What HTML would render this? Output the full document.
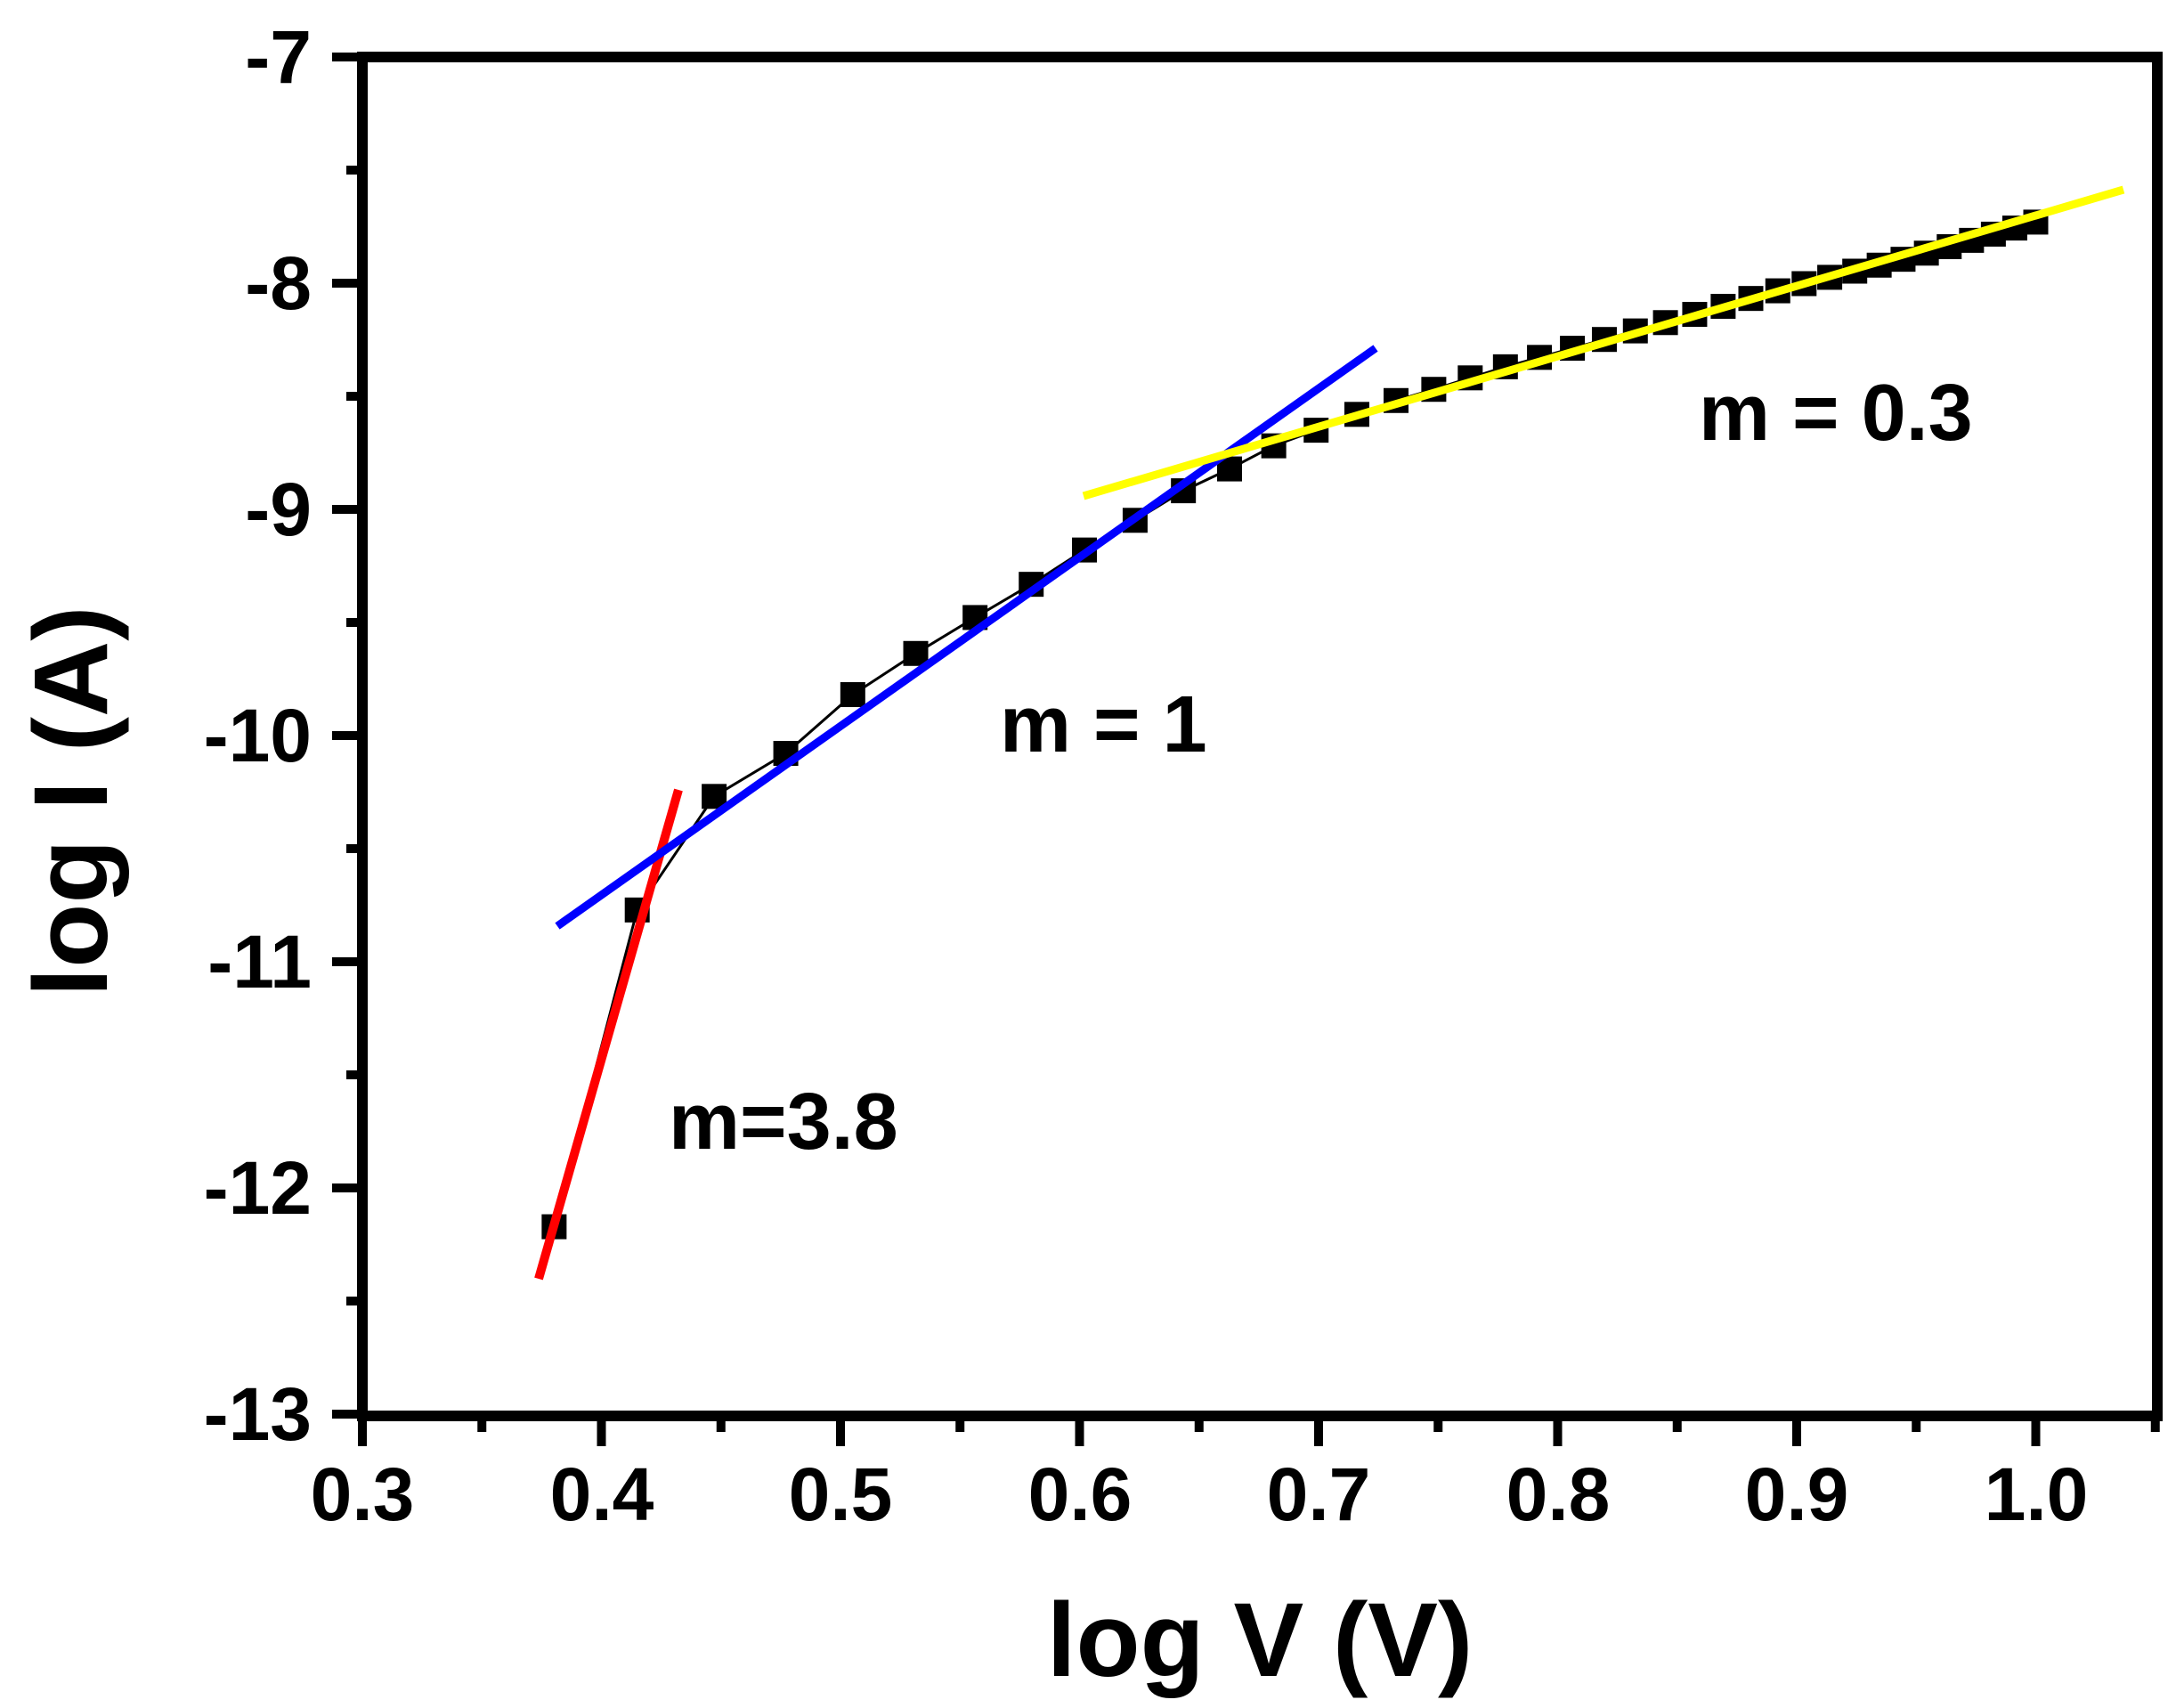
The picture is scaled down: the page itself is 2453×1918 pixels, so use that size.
<!DOCTYPE html>
<html><head><meta charset="utf-8"><style>
html,body{margin:0;padding:0;background:#fff;}
svg{display:block;}
text{font-family:"Liberation Sans",Arial,sans-serif;font-weight:bold;fill:#000;}
</style></head><body>
<svg id="s" width="2453" height="1918" viewBox="0 0 2453 1918" xmlns="http://www.w3.org/2000/svg">
<rect width="2453" height="1918" fill="#fff"/>
<g id="ticks" stroke="#000" stroke-width="10"></g>
<g id="data"></g>
<!-- fit lines -->
<line x1="605" y1="1436" x2="762" y2="887" stroke="#ff0000" stroke-width="10"/>
<line x1="626" y1="1040" x2="1545" y2="391" stroke="#0000ff" stroke-width="9"/>
<line x1="1217" y1="557" x2="2385" y2="213" stroke="#ffff00" stroke-width="9"/>
<!-- frame -->
<rect x="407" y="64" width="2016" height="1526" fill="none" stroke="#000" stroke-width="12"/>
<g font-size="84" text-anchor="end">
<text x="350" y="93">-7</text>
<text x="350" y="347">-8</text>
<text x="350" y="601">-9</text>
<text x="350" y="855">-10</text>
<text x="350" y="1109">-11</text>
<text x="350" y="1363">-12</text>
<text x="350" y="1617">-13</text>
</g>
<g font-size="84" text-anchor="middle">
<text x="407" y="1707">0.3</text>
<text x="676" y="1707">0.4</text>
<text x="944" y="1707">0.5</text>
<text x="1213" y="1707">0.6</text>
<text x="1481" y="1707">0.7</text>
<text x="1750" y="1707">0.8</text>
<text x="2018" y="1707">0.9</text>
<text x="2287" y="1707">1.0</text>
</g>
<text x="1415" y="1882" font-size="118" text-anchor="middle">log V (V)</text>
<text transform="translate(120,900) rotate(-90)" font-size="118" text-anchor="middle">log I (A)</text>
<text x="1908" y="494" font-size="90">m = 0.3</text>
<text x="1123" y="844" font-size="90">m = 1</text>
<text x="751" y="1290" font-size="90">m=3.8</text>
</svg>
<script>
var X=function(v){return 407+(v-0.3)*2685;};
var Y=function(l){return 64+(-7-l)*254;};
var t=document.getElementById('ticks'),h='';
for(var i=0;i<=12;i++){var l=-7-i*0.5,y=Y(l),len=(i%2==0)?34:18;h+='<line x1="'+(407-len)+'" y1="'+y+'" x2="407" y2="'+y+'"/>';}
for(var i=0;i<=15;i++){var v=0.3+i*0.05,x=X(v),len=(i%2==0)?34:18;h+='<line x1="'+x+'" y1="1590" x2="'+x+'" y2="'+(1590+len)+'"/>';}
t.innerHTML=h;
var A=[[0.380,-12.18],[0.415,-10.77],[0.447,-10.27],[0.477,-10.08],[0.505,-9.82],[0.531,-9.64],[0.556,-9.48],[0.580,-9.33],[0.602,-9.18],[0.623,-9.05],[0.643,-8.92],[0.663,-8.82],[0.681,-8.72],[0.699,-8.65],[0.716,-8.58],[0.732,-8.52],[0.748,-8.47],[0.763,-8.42],[0.778,-8.37],[0.85,-8.16],[0.9,-8.01],[0.95,-7.88],[1.0,-7.73]];
function L(x){for(var i=0;i<A.length-1;i++){if(x<=A[i+1][0]){var f=(x-A[i][0])/(A[i+1][0]-A[i][0]);return A[i][1]+f*(A[i+1][1]-A[i][1]);}}return A[A.length-1][1];}
var d='',pts=[];
for(var V=2.4;V<=10.001;V+=0.2){var x=Math.log10(V);pts.push([X(x),Y(L(x))]);}
var p='M'+pts.map(function(q){return q[0].toFixed(1)+','+q[1].toFixed(1);}).join(' L');
d+='<path d="'+p+'" fill="none" stroke="#000" stroke-width="3"/>';
pts.forEach(function(q){d+='<rect x="'+(q[0]-14)+'" y="'+(q[1]-14)+'" width="28" height="28" fill="#000"/>';});
document.getElementById('data').innerHTML=d;
</script>
</body></html>
